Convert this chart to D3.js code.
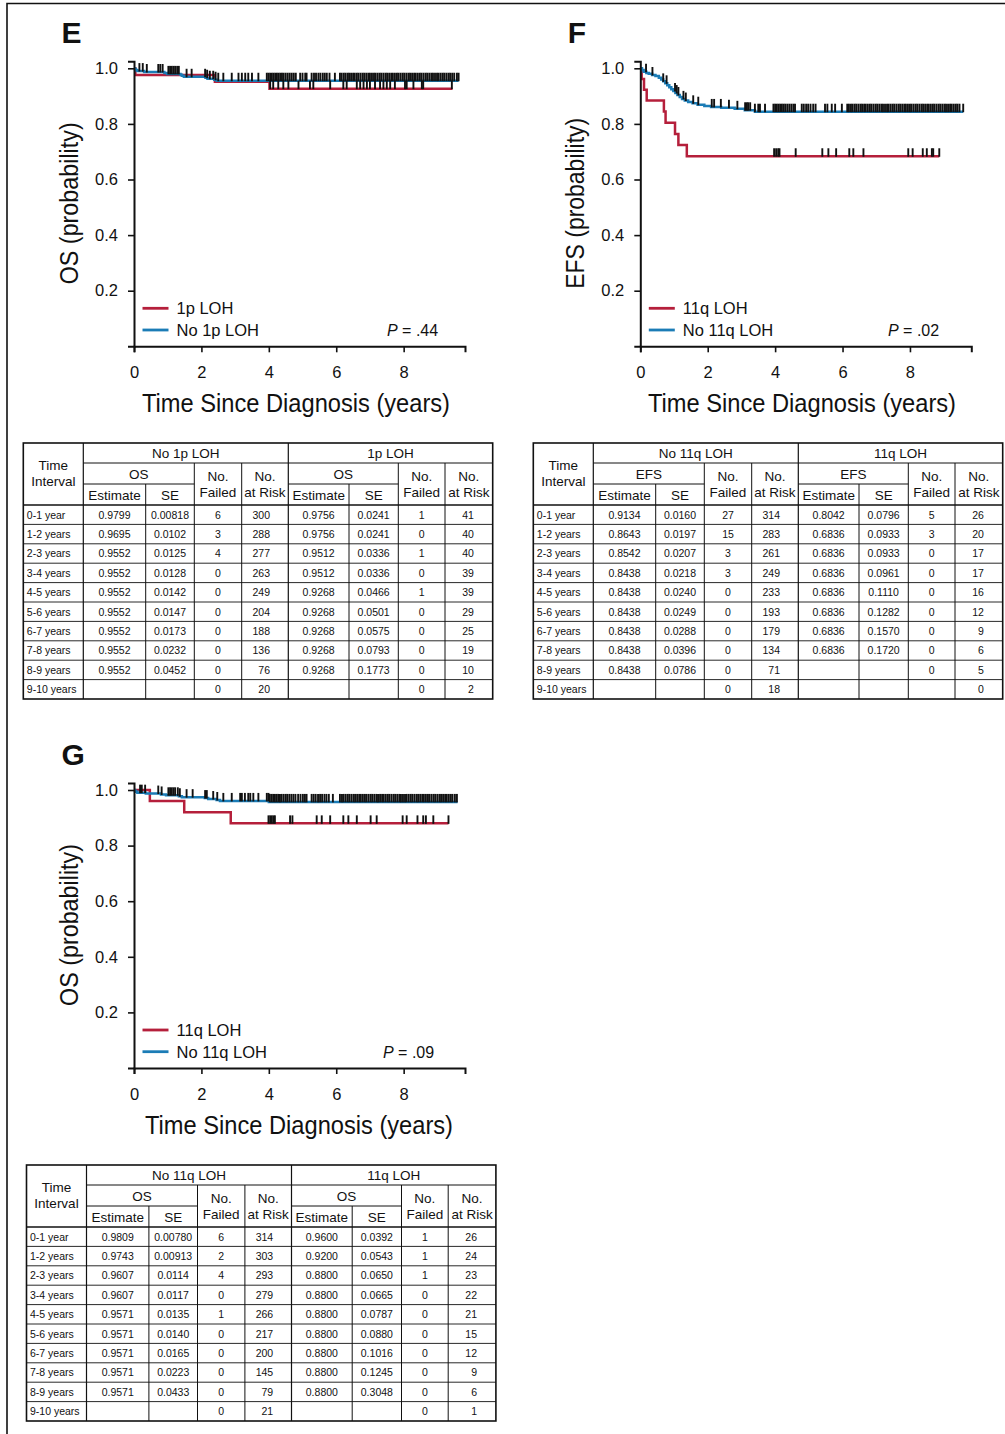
<!DOCTYPE html>
<html>
<head>
<meta charset="utf-8">
<script src="https://cdn.jsdelivr.net/npm/d3@7"></script>
<style>
body { margin: 0; background: #fff; }
svg text { font-family: "Liberation Sans", Arial, sans-serif; fill: #111; }
</style>
</head>
<body>
<svg id="fig" width="1005" height="1434"></svg>
<script>
// ---- colours
var RED = "#b51f3b";
var BLUE = "#1b7cb6";

// ---- panel E : OS by 1p LOH
var noLoh1pOsTime = [0, 0.03, 0.06, 0.1, 0.3, 0.9, 0.98, 1.38, 1.42, 1.48, 2.12, 2.18, 2.38, 2.45];
var noLoh1pOsSurv = [1, 0.9967, 0.9933, 0.99, 0.9866, 0.9833, 0.9799, 0.9764, 0.973, 0.9695, 0.966, 0.9624, 0.9588, 0.9552];
var noLoh1pOsEnd = 9.63;
var loh1pOsTime = [0, 0.04, 2.4, 4.02];
var loh1pOsSurv = [1, 0.9756, 0.9512, 0.9268];
var loh1pOsEnd = 9.45;
var noLoh1pOsCens = [0.16, 0.26, 0.38, 0.72, 0.78, 0.85, 1.02, 1.07, 1.12, 1.17, 1.22, 1.28, 1.33, 1.56, 1.71,
  2.11, 2.17, 2.25, 2.35, 2.42, 2.5, 2.65, 2.9, 3.1, 3.2, 3.3, 3.39, 3.5, 3.69,
  3.94, 3.99, 4.04, 4.09, 4.14, 4.19, 4.24, 4.29, 4.34, 4.39, 4.44, 4.5, 4.56, 4.62, 4.68, 4.74, 4.8,
  4.93, 5.0, 5.08, 5.12, 5.27, 5.34, 5.4, 5.47, 5.53, 5.6, 5.66, 5.72, 5.8, 5.96,
  6.11, 6.16, 6.22, 6.27, 6.33, 6.38, 6.44, 6.5, 6.55, 6.61, 6.66, 6.72, 6.78, 6.83, 6.89, 6.95, 7.0,
  7.06, 7.12, 7.17, 7.23, 7.29, 7.34, 7.4, 7.46, 7.51, 7.57, 7.63, 7.68, 7.74, 7.8, 7.85, 7.91, 7.97,
  8.02, 8.08, 8.14, 8.19, 8.25, 8.31, 8.36, 8.42, 8.48, 8.53, 8.59, 8.65, 8.7, 8.76, 8.82, 8.87, 8.93,
  8.99, 9.04, 9.1, 9.16, 9.21, 9.27, 9.33, 9.38, 9.44, 9.5, 9.58, 9.63];
var loh1pOsCens = [4.04, 4.13, 4.28, 4.43, 4.58, 4.88, 5.22, 5.32, 5.82, 6.21, 6.31, 6.61, 6.71, 6.81, 6.91,
  7.0, 7.15, 7.3, 7.4, 7.5, 7.6, 7.74, 8.04, 8.09, 8.29, 8.54, 8.58, 9.43];

// ---- panel F : EFS by 11q LOH
var noLoh11qEfsTime = [0, 0.05, 0.1, 0.18, 0.25, 0.35, 0.45, 0.55, 0.62, 0.68, 0.74, 0.8, 0.86, 0.92, 0.98,
  1.04, 1.1, 1.17, 1.24, 1.32, 1.42, 1.55, 1.7, 1.9, 2.1, 2.4, 2.8, 3.1, 3.4];
var noLoh11qEfsSurv = [1, 0.994, 0.988, 0.983, 0.98, 0.976, 0.972, 0.966, 0.96, 0.953, 0.946, 0.939, 0.932, 0.925, 0.918,
  0.911, 0.904, 0.897, 0.89, 0.884, 0.879, 0.874, 0.869, 0.8643, 0.861, 0.858, 0.8542, 0.849, 0.8438];
var noLoh11qEfsEnd = 9.58;
var loh11qEfsTime = [0, 0.04, 0.11, 0.19, 0.7, 0.75, 1.03, 1.13, 1.38];
var loh11qEfsSurv = [1, 0.9615, 0.9231, 0.8846, 0.8444, 0.8042, 0.764, 0.7238, 0.6836];
var loh11qEfsEnd = 8.87;
var noLoh11qEfsCens = [0.17, 0.36, 0.68, 0.78, 1.03, 1.08, 1.13, 1.28, 1.35, 1.57, 1.72, 2.12, 2.19, 2.39, 2.63, 2.88,
  3.11, 3.16, 3.2, 3.26, 3.4, 3.5, 3.55, 3.7,
  3.95, 4.0, 4.05, 4.1, 4.15, 4.2, 4.25, 4.3, 4.36, 4.42, 4.48, 4.54, 4.59,
  4.79, 4.85, 4.92, 4.98, 5.05, 5.13, 5.2, 5.48, 5.55, 5.68, 5.78, 5.98,
  6.14, 6.19, 6.25, 6.3, 6.36, 6.41, 6.47, 6.53, 6.58, 6.64, 6.69, 6.75, 6.81, 6.86, 6.92, 6.98, 7.03,
  7.09, 7.15, 7.2, 7.26, 7.32, 7.37, 7.43, 7.49, 7.54, 7.6, 7.66, 7.71, 7.77, 7.83, 7.88, 7.94, 8.0,
  8.05, 8.11, 8.17, 8.22, 8.28, 8.34, 8.39, 8.45, 8.51, 8.56, 8.62, 8.68, 8.73, 8.79, 8.85, 8.9, 8.96,
  9.02, 9.07, 9.13, 9.19, 9.24, 9.3, 9.36, 9.41, 9.47, 9.58];
var loh11qEfsCens = [3.97, 4.03, 4.09, 4.13, 4.61, 5.4, 5.58, 5.81, 6.2, 6.32, 6.62, 7.95, 8.08, 8.38, 8.5, 8.65, 8.69, 8.87];

// ---- panel G : OS by 11q LOH
var noLoh11qOsTime = [0, 0.03, 0.06, 0.1, 0.35, 0.8, 0.95, 1.33, 1.42, 2.1, 2.2, 2.45, 2.55, 4.0];
var noLoh11qOsSurv = [1, 0.9968, 0.9936, 0.9904, 0.9872, 0.984, 0.9809, 0.9776, 0.9743, 0.9709, 0.9675, 0.9641, 0.9607, 0.9571];
var noLoh11qOsEnd = 9.6;
var loh11qOsTime = [0, 0.47, 1.49, 2.87];
var loh11qOsSurv = [1, 0.96, 0.92, 0.88];
var loh11qOsEnd = 9.33;
var noLoh11qOsCens = [0.18, 0.23, 0.33, 0.72, 0.82, 1.02, 1.07, 1.12, 1.17, 1.22, 1.3, 1.36, 1.56, 1.74,
  2.11, 2.16, 2.35, 2.47, 2.65, 2.9, 3.15, 3.2, 3.29, 3.39, 3.45, 3.54, 3.69,
  3.94, 3.99, 4.03, 4.08, 4.13, 4.18, 4.23, 4.28, 4.33, 4.38, 4.44, 4.5, 4.55, 4.61, 4.67, 4.73, 4.79,
  4.87, 4.94, 5.01, 5.07, 5.12, 5.27, 5.33, 5.39, 5.46, 5.52, 5.58, 5.65, 5.71, 5.78, 5.9,
  6.11, 6.17, 6.22, 6.28, 6.34, 6.39, 6.45, 6.51, 6.56, 6.62, 6.68, 6.73, 6.79, 6.85, 6.9, 6.96, 7.02,
  7.07, 7.13, 7.19, 7.24, 7.3, 7.36, 7.41, 7.47, 7.53, 7.58, 7.64, 7.7, 7.75, 7.81, 7.87, 7.92, 7.98,
  8.04, 8.09, 8.15, 8.21, 8.26, 8.32, 8.38, 8.43, 8.49, 8.55, 8.6, 8.66, 8.72, 8.77, 8.83, 8.89, 8.94,
  9.0, 9.06, 9.11, 9.17, 9.23, 9.28, 9.34, 9.4, 9.45, 9.52, 9.58];
var loh11qOsCens = [3.99, 4.04, 4.09, 4.14, 4.18, 4.63, 4.7, 5.42, 5.57, 5.82, 6.21, 6.36, 6.61, 7.02, 7.2,
  7.97, 8.09, 8.41, 8.58, 8.66, 8.88, 9.33];

// ---- tables
var intervals = ["0-1 year", "1-2 years", "2-3 years", "3-4 years", "4-5 years", "5-6 years", "6-7 years", "7-8 years", "8-9 years", "9-10 years"];

var noLoh1pEst = ["0.9799", "0.9695", "0.9552", "0.9552", "0.9552", "0.9552", "0.9552", "0.9552", "0.9552", ""];
var noLoh1pSE = ["0.00818", "0.0102", "0.0125", "0.0128", "0.0142", "0.0147", "0.0173", "0.0232", "0.0452", ""];
var noLoh1pFailed = ["6", "3", "4", "0", "0", "0", "0", "0", "0", "0"];
var noLoh1pRisk = ["300", "288", "277", "263", "249", "204", "188", "136", "76", "20"];
var loh1pEst = ["0.9756", "0.9756", "0.9512", "0.9512", "0.9268", "0.9268", "0.9268", "0.9268", "0.9268", ""];
var loh1pSE = ["0.0241", "0.0241", "0.0336", "0.0336", "0.0466", "0.0501", "0.0575", "0.0793", "0.1773", ""];
var loh1pFailed = ["1", "0", "1", "0", "1", "0", "0", "0", "0", "0"];
var loh1pRisk = ["41", "40", "40", "39", "39", "29", "25", "19", "10", "2"];

var noLoh11qEfsEst = ["0.9134", "0.8643", "0.8542", "0.8438", "0.8438", "0.8438", "0.8438", "0.8438", "0.8438", ""];
var noLoh11qEfsSE = ["0.0160", "0.0197", "0.0207", "0.0218", "0.0240", "0.0249", "0.0288", "0.0396", "0.0786", ""];
var noLoh11qEfsFailed = ["27", "15", "3", "3", "0", "0", "0", "0", "0", "0"];
var noLoh11qEfsRisk = ["314", "283", "261", "249", "233", "193", "179", "134", "71", "18"];
var loh11qEfsEst = ["0.8042", "0.6836", "0.6836", "0.6836", "0.6836", "0.6836", "0.6836", "0.6836", "", ""];
var loh11qEfsSE = ["0.0796", "0.0933", "0.0933", "0.0961", "0.1110", "0.1282", "0.1570", "0.1720", "", ""];
var loh11qEfsFailed = ["5", "3", "0", "0", "0", "0", "0", "0", "0", ""];
var loh11qEfsRisk = ["26", "20", "17", "17", "16", "12", "9", "6", "5", "0"];

var noLoh11qOsEst = ["0.9809", "0.9743", "0.9607", "0.9607", "0.9571", "0.9571", "0.9571", "0.9571", "0.9571", ""];
var noLoh11qOsSE = ["0.00780", "0.00913", "0.0114", "0.0117", "0.0135", "0.0140", "0.0165", "0.0223", "0.0433", ""];
var noLoh11qOsFailed = ["6", "2", "4", "0", "1", "0", "0", "0", "0", "0"];
var noLoh11qOsRisk = ["314", "303", "293", "279", "266", "217", "200", "145", "79", "21"];
var loh11qOsEst = ["0.9600", "0.9200", "0.8800", "0.8800", "0.8800", "0.8800", "0.8800", "0.8800", "0.8800", ""];
var loh11qOsSE = ["0.0392", "0.0543", "0.0650", "0.0665", "0.0787", "0.0880", "0.1016", "0.1245", "0.3048", ""];
var loh11qOsFailed = ["1", "1", "1", "0", "0", "0", "0", "0", "0", "0"];
var loh11qOsRisk = ["26", "24", "23", "22", "21", "15", "12", "9", "6", "1"];

var yTicks = [0.2, 0.4, 0.6, 0.8, 1.0];
var xTicks = [0, 2, 4, 6, 8];

var svg = d3.select("#fig");

// figure frame
svg.append("path")
  .attr("d", "M1005,3.5 H7 V1434")
  .attr("fill", "none")
  .attr("stroke", "#111")
  .attr("stroke-width", 1.6);

// Kaplan-Meier panel
function drawKM(ox, oy, p) {
  var g = svg.append("g");
  var x = d3.scaleLinear().domain([0, 9.82]).range([ox, ox + 331]);
  var y = d3.scaleLinear().domain([0, 1.025]).range([oy + 278, oy - 6.95]);

  var line = d3.line()
    .x(d => x(d[0]))
    .y(d => y(d[1]))
    .curve(d3.curveStepAfter);

  function pts(times, surv, end) {
    var a = times.map((t, i) => [t, surv[i]]);
    a.push([end, surv[surv.length - 1]]);
    return a;
  }
  function survAt(times, surv, t) {
    return surv[Math.max(0, d3.bisectRight(times, t) - 1)];
  }

  g.append("path").attr("d", line(pts(p.redT, p.redS, p.redEnd)))
    .attr("fill", "none").attr("stroke", RED).attr("stroke-width", 2.5);
  g.append("path").attr("d", line(pts(p.blueT, p.blueS, p.blueEnd)))
    .attr("fill", "none").attr("stroke", BLUE).attr("stroke-width", 2.5);

  // censor marks
  [[p.blueCens, p.blueT, p.blueS], [p.redCens, p.redT, p.redS]].forEach(function (c) {
    g.selectAll(null).data(c[0]).enter().append("line")
      .attr("x1", d => x(d)).attr("x2", d => x(d))
      .attr("y1", d => y(survAt(c[1], c[2], d)) - 8)
      .attr("y2", d => y(survAt(c[1], c[2], d)) + 0.5)
      .attr("stroke", "#111").attr("stroke-width", 1.9);
  });

  // axes
  var yAxis = g.append("g").attr("transform", `translate(${ox},0)`)
    .call(d3.axisLeft(y).tickValues(yTicks).tickFormat(d3.format(".1f")).tickSizeOuter(0).tickSize(6).tickPadding(10));
  var xAxis = g.append("g").attr("transform", `translate(0,${oy + 278})`)
    .call(d3.axisBottom(x).tickValues(xTicks).tickSizeOuter(0).tickSize(6).tickPadding(14));
  [yAxis, xAxis].forEach(function (a) {
    a.select(".domain").attr("stroke", "#111").attr("stroke-width", 2);
    a.selectAll(".tick line").attr("stroke", "#111").attr("stroke-width", 1.6);
    a.selectAll("text").attr("font-size", 16.5).attr("font-family", "Liberation Sans, Arial, sans-serif").attr("fill", "#111");
  });

  // titles (condensed look via textLength)
  g.append("text")
    .attr("x", p.xTitleX).attr("y", oy + 344)
    .attr("text-anchor", "middle").attr("font-size", 25)
    .attr("textLength", 308).attr("lengthAdjust", "spacingAndGlyphs")
    .text("Time Since Diagnosis (years)");
  g.append("text")
    .attr("transform", `translate(${ox - 56.5},${oy + 135}) rotate(-90)`)
    .attr("text-anchor", "middle").attr("font-size", 25)
    .attr("textLength", p.yTitleLen).attr("lengthAdjust", "spacingAndGlyphs")
    .text(p.yTitle);
  g.append("text")
    .attr("x", ox - 72.5).attr("y", oy - 25.5)
    .attr("font-size", 30).attr("font-weight", "bold")
    .text(p.letter);

  // legend
  var lx = ox + 8.5;
  [[RED, p.redName, oy + 240], [BLUE, p.blueName, oy + 261.7]].forEach(function (l) {
    g.append("line").attr("x1", lx).attr("x2", lx + 26).attr("y1", l[2]).attr("y2", l[2])
      .attr("stroke", l[0]).attr("stroke-width", 2.8);
    g.append("text").attr("x", lx + 34).attr("y", l[2] + 6).attr("font-size", 16.5).text(l[1]);
  });
  var pt = g.append("text").attr("x", p.pX).attr("y", oy + 267.5).attr("font-size", 16);
  pt.append("tspan").attr("font-style", "italic").text("P");
  pt.append("tspan").text(p.pText);
}

drawKM(134, 68.3, {
  letter: "E", yTitle: "OS (probability)", yTitleLen: 162, xTitleX: 296,
  redT: loh1pOsTime, redS: loh1pOsSurv, redEnd: loh1pOsEnd, redCens: loh1pOsCens,
  blueT: noLoh1pOsTime, blueS: noLoh1pOsSurv, blueEnd: noLoh1pOsEnd, blueCens: noLoh1pOsCens,
  redName: "1p LOH", blueName: "No 1p LOH", pX: 387, pText: " =  .44"
});
drawKM(640.3, 68.3, {
  letter: "F", yTitle: "EFS (probability)", yTitleLen: 171, xTitleX: 802,
  redT: loh11qEfsTime, redS: loh11qEfsSurv, redEnd: loh11qEfsEnd, redCens: loh11qEfsCens,
  blueT: noLoh11qEfsTime, blueS: noLoh11qEfsSurv, blueEnd: noLoh11qEfsEnd, blueCens: noLoh11qEfsCens,
  redName: "11q LOH", blueName: "No 11q LOH", pX: 888, pText: " = .02"
});
drawKM(134, 790, {
  letter: "G", yTitle: "OS (probability)", yTitleLen: 162, xTitleX: 299,
  redT: loh11qOsTime, redS: loh11qOsSurv, redEnd: loh11qOsEnd, redCens: loh11qOsCens,
  blueT: noLoh11qOsTime, blueS: noLoh11qOsSurv, blueEnd: noLoh11qOsEnd, blueCens: noLoh11qOsCens,
  redName: "11q LOH", blueName: "No 11q LOH", pX: 383, pText: " = .09"
});

// summary tables
var colW = [60, 62.4, 48.6, 47.4, 46.6, 60.7, 49.3, 46.7, 47.7];

function drawTable(x0, y0, t) {
  var g = svg.append("g");
  var cx = [x0];
  colW.forEach(w => cx.push(cx[cx.length - 1] + w));
  var W = cx[9] - x0;
  var hGroup = y0 + 20, hOS = y0 + 41, hBot = y0 + 62, rowH = 19.4;
  var yBot = hBot + rowH * 10;

  function ln(x1, y1, x2, y2, w) {
    g.append("line").attr("x1", x1).attr("y1", y1).attr("x2", x2).attr("y2", y2)
      .attr("stroke", "#111").attr("stroke-width", w || 1);
  }
  function txt(x, yy, s, size, anchor) {
    g.append("text").attr("x", x).attr("y", yy).attr("font-size", size)
      .attr("text-anchor", anchor || "middle").text(s);
  }

  // horizontal rules
  ln(cx[1], hGroup, cx[9], hGroup);
  ln(cx[1], hOS, cx[3], hOS);
  ln(cx[5], hOS, cx[7], hOS);
  ln(x0, hBot, cx[9], hBot, 1.3);
  for (var r = 1; r < 10; r++) ln(x0, hBot + r * rowH, cx[9], hBot + r * rowH, 0.9);
  // vertical rules
  ln(cx[1], y0, cx[1], yBot, 1.2);
  ln(cx[5], y0, cx[5], yBot, 1.2);
  [3, 4, 7, 8].forEach(i => ln(cx[i], hGroup, cx[i], yBot));
  [2, 6].forEach(i => ln(cx[i], hOS, cx[i], yBot));
  g.append("rect").attr("x", x0).attr("y", y0).attr("width", W).attr("height", yBot - y0)
    .attr("fill", "none").attr("stroke", "#111").attr("stroke-width", 1.6);

  // header text
  var mid = (a, b) => (cx[a] + cx[b]) / 2;
  txt(mid(0, 1), y0 + 27, "Time", 13.5);
  txt(mid(0, 1), y0 + 43, "Interval", 13.5);
  txt(mid(1, 5), y0 + 14.5, t.groupA, 13.5);
  txt(mid(5, 9), y0 + 14.5, t.groupB, 13.5);
  [[1, 3], [5, 7]].forEach(function (s) {
    txt(mid(s[0], s[1]), y0 + 36, t.measure, 13.5);
    txt(mid(s[0], s[0] + 1), y0 + 56.5, "Estimate", 13.5);
    txt(mid(s[0] + 1, s[0] + 2), y0 + 56.5, "SE", 13.5);
    txt(mid(s[0] + 2, s[0] + 3), y0 + 38, "No.", 13.5);
    txt(mid(s[0] + 2, s[0] + 3), y0 + 54, "Failed", 13.5);
    txt(mid(s[0] + 3, s[0] + 4), y0 + 38, "No.", 13.5);
    txt(mid(s[0] + 3, s[0] + 4), y0 + 54, "at Risk", 13.5);
  });

  // body
  intervals.forEach(function (lab, i) {
    var yy = hBot + rowH * i + rowH / 2 + 3.8;
    txt(x0 + 3.5, yy, lab, 10.5, "start");
    var cols = [t.estA, t.seA, t.failA, t.riskA, t.estB, t.seB, t.failB, t.riskB];
    cols.forEach(function (c, j) {
      var k = j + 1;
      if (j === 3 || j === 7) txt(mid(k, k + 1) + 5, yy, c[i], 10.5, "end");
      else txt(mid(k, k + 1), yy, c[i], 10.5);
    });
  });
}

drawTable(23.3, 443, {
  groupA: "No 1p LOH", groupB: "1p LOH", measure: "OS",
  estA: noLoh1pEst, seA: noLoh1pSE, failA: noLoh1pFailed, riskA: noLoh1pRisk,
  estB: loh1pEst, seB: loh1pSE, failB: loh1pFailed, riskB: loh1pRisk
});
drawTable(533.3, 443, {
  groupA: "No 11q LOH", groupB: "11q LOH", measure: "EFS",
  estA: noLoh11qEfsEst, seA: noLoh11qEfsSE, failA: noLoh11qEfsFailed, riskA: noLoh11qEfsRisk,
  estB: loh11qEfsEst, seB: loh11qEfsSE, failB: loh11qEfsFailed, riskB: loh11qEfsRisk
});
drawTable(26.5, 1165, {
  groupA: "No 11q LOH", groupB: "11q LOH", measure: "OS",
  estA: noLoh11qOsEst, seA: noLoh11qOsSE, failA: noLoh11qOsFailed, riskA: noLoh11qOsRisk,
  estB: loh11qOsEst, seB: loh11qOsSE, failB: loh11qOsFailed, riskB: loh11qOsRisk
});
</script>
</body>
</html>
